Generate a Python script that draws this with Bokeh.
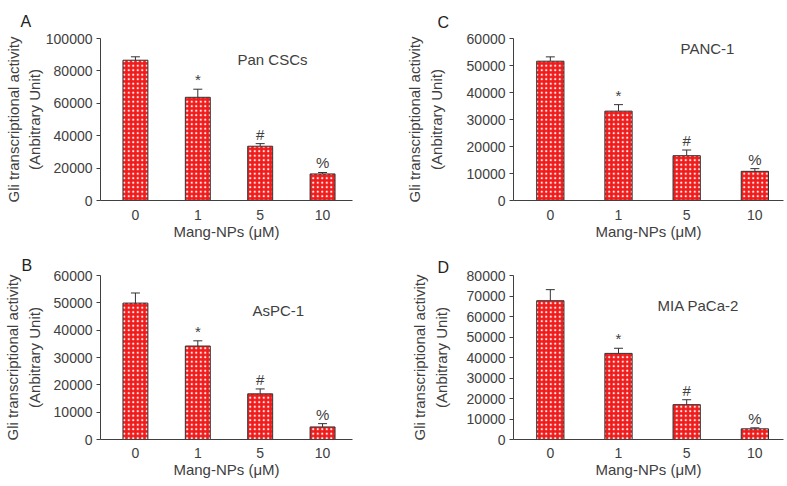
from bokeh.plotting import figure
from bokeh.layouts import column, row
from bokeh.models import (Range1d, FixedTicker, NumeralTickFormatter, Whisker,
                          TeeHead, ColumnDataSource, Label)
from bokeh.embed import file_html
from bokeh.resources import INLINE
from bokeh.core.properties import value

# ---------------- data ----------------
doses = ["0", "1", "5", "10"]          # Mang-NPs (uM)
marks = ["", "*", "#", "%"]            # significance marks

a_name = "Pan CSCs"
a_vals = [86600, 63700, 33500, 16400]
a_sd = [2100, 5000, 1600, 900]

b_name = "AsPC-1"
b_vals = [49900, 34200, 16700, 4600]
b_sd = [3700, 1900, 1800, 1200]

c_name = "PANC-1"
c_vals = [51600, 33100, 16600, 10800]
c_sd = [1600, 2400, 2100, 1000]

d_name = "MIA PaCa-2"
d_vals = [67700, 42000, 17000, 5200]
d_sd = [5400, 2500, 2400, 500]

y_title = "Gli transcriptional activity\n(Anbitrary Unit)"
x_title = "Mang-NPs (\u03bcM)"

FONT = "Liberation Sans"
TXT = "#404040"


def panel(letter, name, vals, sd, ymax, ystep, fig_xy, width, height,
          left, right, top, bottom, xr, ylab_standoff, xtick_standoff,
          letter_offset, letter_standoff, name_xy):
    p = figure(width=width, height=height, output_backend="svg",
               toolbar_location=None,
               x_range=Range1d(*xr), y_range=Range1d(0, ymax),
               min_border_left=left, min_border_right=right,
               min_border_top=top, min_border_bottom=bottom)
    p.grid.visible = False
    p.outline_line_color = None

    # panel letter as the figure title
    p.title.text = letter
    p.title.align = "left"
    p.title.offset = letter_offset
    p.title.standoff = letter_standoff
    p.title.text_font = FONT
    p.title.text_font_size = "16px"
    p.title.text_font_style = "normal"
    p.title.text_color = "#222222"

    xs = list(range(len(doses)))
    src = ColumnDataSource(dict(x=xs, top=vals,
                                up=[v + s for v, s in zip(vals, sd)],
                                mark=marks))
    w = Whisker(base="x", upper="up", lower="top", source=src,
                dimension="height", line_color="#333333", line_width=1,
                upper_head=TeeHead(size=9, line_color="#333333", line_width=1),
                lower_head=None)
    p.add_layout(w)
    p.vbar(x="x", top="top", width=0.4, source=src,
           fill_color="#f01c1c", line_color="#333333", line_width=1,
           hatch_pattern="dot", hatch_color="#ffecec", hatch_scale=4.5,
           hatch_weight=2.0)
    p.text(x="x", y="up", text="mark", source=src, text_align="center",
           text_baseline="bottom", y_offset=-1,
           text_font=value(FONT), text_font_size="15px", text_color=TXT)

    # axes
    p.yaxis.ticker = FixedTicker(ticks=list(range(0, ymax + 1, ystep)))
    p.yaxis.formatter = NumeralTickFormatter(format="0")
    p.xaxis.ticker = FixedTicker(ticks=xs)
    p.xaxis.major_label_overrides = {i: d for i, d in enumerate(doses)}
    for ax in (p.xaxis[0], p.yaxis[0]):
        ax.axis_line_color = "#404040"
        ax.major_tick_line_color = "#404040"
        ax.minor_tick_line_color = None
        ax.major_label_text_font = FONT
        ax.major_label_text_font_size = "14px"
        ax.major_label_text_color = TXT
        ax.axis_label_text_font = FONT
        ax.axis_label_text_font_style = "normal"
        ax.axis_label_text_color = TXT
    p.yaxis.major_tick_out = 4
    p.yaxis.major_tick_in = 0
    p.yaxis.major_label_standoff = 4
    p.yaxis.axis_label = y_title
    p.yaxis.axis_label_text_font_size = "15px"
    p.yaxis.axis_label_text_line_height = 1.25
    p.yaxis.axis_label_standoff = ylab_standoff
    p.xaxis.major_tick_out = 0
    p.xaxis.major_tick_in = 0
    p.xaxis.major_label_standoff = xtick_standoff
    p.xaxis.axis_label = x_title
    p.xaxis.axis_label_text_font_size = "15px"
    p.xaxis.axis_label_standoff = 0

    # cell-line name inside the plot area (frame-relative screen units)
    fx0 = fig_xy[0] + left
    fy0 = fig_xy[1] + height - bottom
    p.add_layout(Label(x=name_xy[0] - fx0, y=fy0 - name_xy[1],
                       x_units="screen", y_units="screen", text=name,
                       text_align="left", text_baseline="middle",
                       text_font=FONT, text_font_size="15px",
                       text_color=TXT))
    return p


pa = panel("A", a_name, a_vals, a_sd, 100000, 20000, (0, 0), 395, 251,
           100, 43, 38, 47, (-0.56, 3.48), 0, 9, -80, 18, (237, 63))
pc = panel("C", c_name, c_vals, c_sd, 60000, 10000, (395, 0), 390, 251,
           118, 2, 34, 51, (-0.54, 3.42), 19, 9, -76, 15, (680, 48))
pb = panel("B", b_name, b_vals, b_sd, 60000, 10000, (0, 251), 395, 234,
           100, 43, 24, 46, (-0.56, 3.48), 8, 8, -79, 4, (252, 310))
pd = panel("D", d_name, d_vals, d_sd, 80000, 10000, (395, 251), 390, 234,
           118, 2, 24, 46, (-0.54, 3.42), 14, 8, -76, 0, (657, 305))

layout = column(row(pa, pc), row(pb, pd))
open("out.html", "w").write(file_html(layout, INLINE))
